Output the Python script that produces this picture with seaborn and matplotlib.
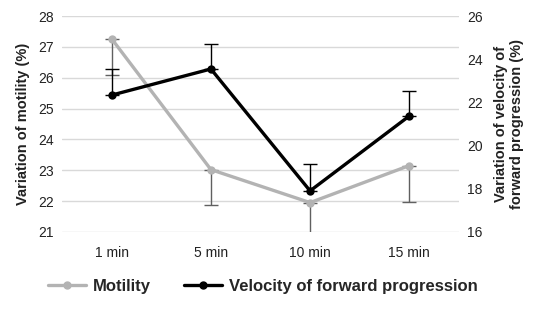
import numpy as np
import matplotlib
matplotlib.use("Agg")
import matplotlib.pyplot as plt
import seaborn as sns
from matplotlib.lines import Line2D

# data
times = ["1 min", "5 min", "10 min", "15 min"]
motility = [27.26, 23.02, 21.95, 23.15]
motility_err_low = [1.16, 1.14, 1.2, 1.17]
velocity = [22.34, 23.55, 17.9, 21.37]
velocity_err_up = [1.23, 1.15, 1.25, 1.16]

sns.set_theme(style="white")
plt.rcParams['font.family'] = ['Liberation Sans', 'DejaVu Sans']

fig = plt.figure(figsize=(5.36, 3.10), dpi=100)
ax = fig.add_axes([0.116, 0.252, 0.74, 0.696])
ax2 = ax.twinx()

x = np.arange(len(times))

# motility on left axis
ax.errorbar(x, motility, yerr=[motility_err_low, [0] * 4], fmt='none',
            ecolor='#606060', elinewidth=1, capsize=5, capthick=1, zorder=2)
sns.lineplot(x=x, y=motility, ax=ax, color='#b3b3b3', linewidth=2.4,
             marker='o', markersize=6, markeredgewidth=0, zorder=3)

# velocity on right axis
ax2.errorbar(x, velocity, yerr=[[0] * 4, velocity_err_up], fmt='none',
             ecolor='black', elinewidth=1, capsize=5, capthick=1, zorder=2)
sns.lineplot(x=x, y=velocity, ax=ax2, color='black', linewidth=2.4,
             marker='o', markersize=6, markeredgewidth=0, zorder=3)

ax.set_xlim(-0.5, 3.5)
ax.set_ylim(21, 28)
ax2.set_ylim(16, 26)
ax.set_yticks(range(21, 29))
ax2.set_yticks(range(16, 27, 2))
ax.set_xticks(x)
ax.set_xticklabels(times)

ax.grid(axis='y', color='#d9d9d9', linewidth=1)
ax.set_axisbelow(True)
for a in (ax, ax2):
    for s in a.spines.values():
        s.set_visible(False)
    a.tick_params(length=0, labelsize=10, colors='#222222', pad=6)
ax.tick_params(axis='x', pad=10)

ax.set_ylabel("Variation of motility (%)", fontsize=10.5, fontweight='bold',
              color='#222222', labelpad=6)
ax2.set_ylabel("Variation of velocity of\nforward progression (%)", fontsize=10.5,
               fontweight='bold', color='#222222', labelpad=8)

handles = [
    Line2D([], [], color='#b3b3b3', linewidth=2.4, marker='o', markersize=5),
    Line2D([], [], color='black', linewidth=2.4, marker='o', markersize=5),
]
fig.legend(handles, ["Motility", "Velocity of forward progression"],
           loc='center', bbox_to_anchor=(0.49, 0.075), ncol=2, frameon=False,
           prop={'weight': 'bold', 'size': 12}, handlelength=2.3,
           columnspacing=2.0, handletextpad=0.4)

fig.savefig("out.png", dpi=100)
